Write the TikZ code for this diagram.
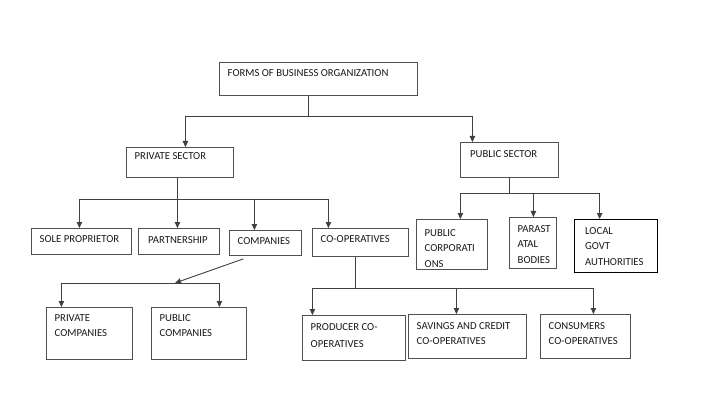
\documentclass[tikz,border=0pt]{standalone}
\usepackage{fontspec}
\setmainfont{Carlito}
\usepackage{tikz}
\usetikzlibrary{arrows.meta,positioning,calc}
\definecolor{boxGray}{RGB}{80,80,80}

\begin{document}
\begin{tikzpicture}[x=1pt, y=-1pt,
  orgbox/.style={draw=boxGray, line width=0.85pt, anchor=north west, inner sep=0pt},
  boxtext/.style={anchor=north west, align=left, inner xsep=8.5pt, inner ysep=7pt,
    text=black!90, font=\fontsize{10.7}{15.5}\selectfont},
  arr/.style={-{Triangle[length=6pt,width=5.5pt]}, draw=black!75, line width=0.9pt}]
  \useasboundingbox[fill=white] (0,0) rectangle (718,409);

  % Top level
  \node[orgbox, minimum width=198pt, minimum height=33pt,
    label={[boxtext]north west:FORMS OF BUSINESS ORGANIZATION}] (forms) at (219,62) {};
  \node[orgbox, minimum width=107pt, minimum height=30pt,
    label={[boxtext, inner ysep=5.5pt]north west:PRIVATE SECTOR}] (private) at (126,147) {};
  \node[orgbox, minimum width=98pt, minimum height=35pt,
    label={[boxtext, inner xsep=10pt, inner ysep=8pt]north west:PUBLIC SECTOR}] (public) at (460,142) {};

  % Private sector row
  \node[orgbox, minimum width=100pt, minimum height=26pt,
    label={[boxtext]north west:SOLE PROPRIETOR}] (sole) at (31,228) {};
  \node[orgbox, minimum width=81pt, minimum height=26pt,
    label={[boxtext, inner xsep=10pt, inner ysep=8.5pt]north west:PARTNERSHIP}] (partner) at (138,228) {};
  \node[orgbox, minimum width=72pt, minimum height=25pt,
    label={[boxtext]north west:COMPANIES}] (companies) at (229,230) {};
  \node[orgbox, minimum width=96pt, minimum height=28pt,
    label={[boxtext]north west:CO-OPERATIVES}] (coop) at (312,228) {};

  % Public sector row
  \node[orgbox, minimum width=71pt, minimum height=50pt,
    label={[boxtext, inner ysep=10pt]north west:PUBLIC\\CORPORATI\\ONS}] (pubcorp) at (416,219) {};
  \node[orgbox, minimum width=47pt, minimum height=51pt,
    label={[boxtext, inner ysep=8pt]north west:PARAST\\ATAL\\BODIES}] (parastatal) at (509,217) {};
  \node[orgbox, draw=black, line width=1.3pt, minimum width=83pt, minimum height=53pt,
    label={[boxtext, inner xsep=11pt, inner ysep=8pt]north west:LOCAL\\GOVT\\AUTHORITIES}] (local) at (574,219) {};

  % Companies
  \node[orgbox, minimum width=86pt, minimum height=52pt,
    label={[boxtext]north west:PRIVATE\\COMPANIES}] (privcomp) at (46,307) {};
  \node[orgbox, minimum width=95pt, minimum height=52pt,
    label={[boxtext]north west:PUBLIC\\COMPANIES}] (pubcomp) at (151,307) {};

  % Co-operatives
  \node[orgbox, minimum width=103pt, minimum height=45pt,
    label={[boxtext, inner ysep=8pt, font=\fontsize{10.7}{17}\selectfont]north west:PRODUCER CO-\\OPERATIVES}] (producer) at (302,315) {};
  \node[orgbox, minimum width=118pt, minimum height=44pt,
    label={[boxtext, inner ysep=8pt]north west:SAVINGS AND CREDIT\\CO-OPERATIVES}] (savings) at (408,314) {};
  \node[orgbox, minimum width=90pt, minimum height=44pt,
    label={[boxtext, inner ysep=8pt]north west:CONSUMERS\\CO-OPERATIVES}] (consumers) at (540,314) {};

  % Connectors
  \draw[arr] ([xshift=-10pt]forms.south) -- ++(0,21) -| ([xshift=5.5pt]private.north);
  \draw[arr] ([xshift=-10pt]forms.south) -- ++(0,21) -| ([xshift=-37pt]public.north);

  \foreach \kid/\dx in {sole/-2, partner/-1.5, companies/-11, coop/-32}
    \draw[arr] ([xshift=-2.5pt]private.south) -- ++(0,22) -| ([xshift=\dx pt]\kid.north);

  \foreach \kid/\dx in {pubcorp/8.5, parastatal/0.5, local/-16.5}
    \draw[arr] (public.south) -- ++(0,16) -| ([xshift=\dx pt]\kid.north);

  \coordinate (combus) at (175,283);
  \draw[arr] ([xshift=-22pt,yshift=-3pt]companies.south) -- (combus);
  \draw[arr] (combus) -| ([xshift=-28pt]privcomp.north);
  \draw[arr] (combus) -| ([xshift=20.5pt]pubcomp.north);

  \foreach \kid/\dx in {producer/-41.5, savings/-11, consumers/8}
    \draw[arr] ([xshift=-5pt]coop.south) -- ++(0,32) -| ([xshift=\dx pt]\kid.north);
\end{tikzpicture}
\end{document}
